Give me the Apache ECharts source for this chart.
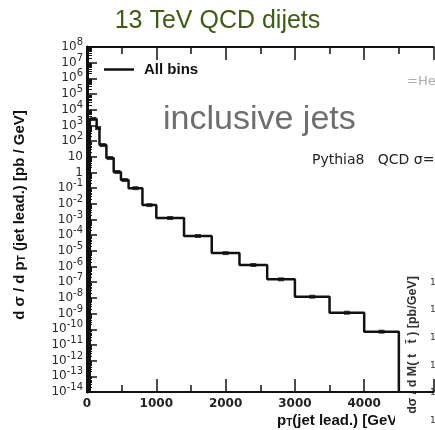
<!DOCTYPE html>
<html>
<head>
<meta charset="utf-8">
<script src="https://cdn.jsdelivr.net/npm/echarts@6/dist/echarts.min.js"></script>
<style>
  html, body { margin: 0; padding: 0; background: #fff; }
  #main { width: 435px; height: 430px; }
</style>
</head>
<body>
<div id="main"></div>
<script>
// bin edges (GeV) and d sigma / d pT per bin (pb/GeV)
var binEdges = [40, 140, 180, 280, 385, 490, 600, 800, 1000, 1400, 1800, 2200, 2600, 3000, 3500, 4000, 4500];
var binValues = [2600, 680, 56, 8.3, 1.07, 0.33, 0.1, 8.3e-3, 1.25e-3, 8.9e-5, 7.2e-6, 1.25e-6, 1.53e-7, 1.19e-8, 1.13e-9, 7.0e-11];
var xLabels = [0, 1000, 2000, 3000, 4000];
var yMin = 1e-14, yMax = 1e8;

var chart = echarts.init(document.getElementById('main'));

// step outline + bin centre markers
var stepPts = [[binEdges[0], yMin]];
var centrePts = [];
for (var i = 0; i < binValues.length; i++) {
  stepPts.push([binEdges[i], binValues[i]], [binEdges[i + 1], binValues[i]]);
  centrePts.push([(binEdges[i] + binEdges[i + 1]) / 2, binValues[i]]);
}
stepPts.push([binEdges[binEdges.length - 1], yMin]);

function yLabel(v) {
  var e = Math.round(Math.log10(v));
  if (e === 0) return '{b|1}';
  if (e === 1) return '{b|10}';
  return '{b|10}{s|' + e + '}';
}

var black = '#111';
var xCommon = {
  type: 'value', min: 0, max: 5000, interval: 1000,
  axisLine: { lineStyle: { color: black, width: 2 } },
  axisTick: { inside: true, length: 13, lineStyle: { color: black, width: 1.5 } },
  minorTick: { show: true, splitNumber: 2, length: 7, lineStyle: { color: black, width: 1.5 } },
  splitLine: { show: false }
};

var option = {
  animation: false,
  grid: { left: 87, top: 47, right: 1.5, bottom: 38, outerBoundsMode: 'none', containLabel: false },
  legend: {
    data: ['All bins'], left: 99, top: 57,
    icon: 'rect', itemWidth: 30, itemHeight: 2.5,
    textStyle: { fontFamily: 'Liberation Sans', fontWeight: 'bold', fontSize: 15, color: black, padding: [0, 0, 0, 5] }
  },
  xAxis: [
    Object.assign({}, xCommon, {
      position: 'bottom',
      axisLabel: {
        margin: 6, fontFamily: 'DejaVu Sans', fontWeight: 'bold', fontSize: 12, color: '#222',
        formatter: function (v) { return xLabels.indexOf(v) >= 0 ? String(v) : ''; }
      }
    }),
    Object.assign({}, xCommon, { position: 'top', axisLabel: { show: false } })
  ],
  yAxis: {
    type: 'log', logBase: 10, min: yMin, max: yMax, interval: 1,
    axisLine: { lineStyle: { color: black, width: 3 } },
    axisTick: { inside: true, length: 10, lineStyle: { color: black, width: 1.5 } },
    minorTick: { show: true, splitNumber: 9, length: 5, lineStyle: { color: black, width: 1 } },
    splitLine: { show: false },
    axisLabel: {
      margin: 4, formatter: yLabel, showMinLabel: true, showMaxLabel: true, hideOverlap: false,
      rich: {
        b: { fontFamily: 'DejaVu Sans', fontSize: 12, color: '#2a2a2a' },
        s: { fontFamily: 'DejaVu Sans', fontSize: 10, color: '#2a2a2a', padding: [0, 0, 9, 0] }
      }
    }
  },
  series: [
    {
      name: 'All bins', type: 'line', data: stepPts, showSymbol: false,
      itemStyle: { color: black },
      lineStyle: { color: black, width: 2.5 }
    },
    {
      name: 'centres', type: 'scatter', data: centrePts,
      symbol: 'rect', symbolSize: [6, 4], itemStyle: { color: black }
    }
  ],
  graphic: [
    {
      type: 'text', left: 'center', top: 9,
      style: { text: '13 TeV QCD dijets', fontFamily: 'Liberation Sans', fontSize: 25, fill: '#3d5c14' }
    },
    {
      type: 'text', x: 163, y: 120,
      style: { text: 'inclusive jets', fontFamily: 'Liberation Sans', fontSize: 34, fill: '#6e6e6e', verticalAlign: 'middle' }
    },
    {
      type: 'text', x: 312, y: 160,
      style: { text: 'Pythia8   QCD \u03c3=', fontFamily: 'DejaVu Sans', fontSize: 14, fill: '#222', verticalAlign: 'middle' }
    },
    {
      type: 'text', x: 407, y: 82,
      style: { text: '=He', fontFamily: 'DejaVu Sans', fontSize: 13, fill: '#aaa', verticalAlign: 'middle' }
    },
    {
      type: 'text', x: 20, y: 215, rotation: Math.PI / 2,
      style: {
        text: 'd \u03c3 / d p{sub|T} (jet lead.) [pb / GeV]',
        fontFamily: 'Liberation Sans', fontWeight: 'bold', fontSize: 15, fill: black,
        align: 'center', verticalAlign: 'middle',
        rich: { sub: { fontFamily: 'Liberation Sans', fontWeight: 'bold', fontSize: 10, fill: black, padding: [5, 0, 0, 0] } }
      }
    },
    {
      type: 'text', x: 277, y: 421,
      style: {
        text: 'p{sub|T}(jet lead.) [GeV]',
        fontFamily: 'Liberation Sans', fontWeight: 'bold', fontSize: 15, fill: black,
        verticalAlign: 'middle',
        rich: { sub: { fontFamily: 'Liberation Sans', fontWeight: 'bold', fontSize: 10, fill: black, padding: [5, 0, 0, 0] } }
      }
    },
    // partly hidden neighbouring plot at bottom right
    {
      type: 'group', z: 100,
      children: [
        { type: 'rect', shape: { x: 395, y: 240, width: 40, height: 190 }, style: { fill: '#fff' } },
        {
          type: 'text', x: 413, y: 345, rotation: Math.PI / 2,
          style: { text: 'd\u03c3 / d M( t   t\u0304 ) [pb/GeV]', fontFamily: 'Liberation Sans', fontWeight: 'bold', fontSize: 12.5, fill: '#333', align: 'center', verticalAlign: 'middle' }
        },
        { type: 'text', x: 430, y: 283, style: { text: '1', fontFamily: 'DejaVu Sans', fontSize: 9, fill: '#333', verticalAlign: 'middle' } },
        { type: 'text', x: 430, y: 310, style: { text: '1', fontFamily: 'DejaVu Sans', fontSize: 9, fill: '#333', verticalAlign: 'middle' } },
        { type: 'text', x: 430, y: 338, style: { text: '1', fontFamily: 'DejaVu Sans', fontSize: 9, fill: '#333', verticalAlign: 'middle' } },
        { type: 'text', x: 430, y: 366, style: { text: '1', fontFamily: 'DejaVu Sans', fontSize: 9, fill: '#333', verticalAlign: 'middle' } },
        { type: 'text', x: 430, y: 393, style: { text: '1', fontFamily: 'DejaVu Sans', fontSize: 9, fill: '#333', verticalAlign: 'middle' } },
        { type: 'text', x: 430, y: 421, style: { text: '1', fontFamily: 'DejaVu Sans', fontSize: 9, fill: '#333', verticalAlign: 'middle' } }
      ]
    }
  ]
};
chart.setOption(option);
</script>
</body>
</html>
